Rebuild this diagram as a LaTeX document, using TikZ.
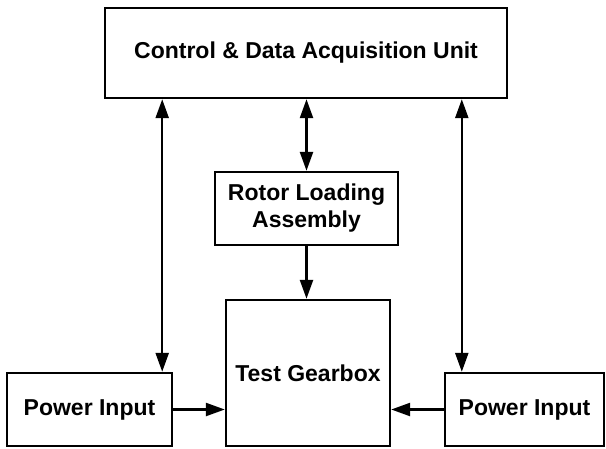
\documentclass[tikz,border=0pt]{standalone}
\usepackage{fontspec}
\setmainfont{Liberation Sans}
\usetikzlibrary{arrows.meta}
\begin{document}
\begin{tikzpicture}[x=1pt,y=-1pt,
  box/.style={draw=black,line width=2.4pt,fill=white,inner sep=0pt,align=center,
    font=\fontsize{23}{27}\selectfont\bfseries},
  conn/.style={line width=2.4pt,-{Triangle[length=19pt,width=13pt]}},
  dconn/.style={line width=2.4pt,{Triangle[length=19pt,width=13pt]}-{Triangle[length=19pt,width=13pt]}}]
\useasboundingbox (0,0) rectangle (606,448);
\node[box,minimum width=402pt,minimum height=90pt] (ctrl) at (306,53) {Control \& Data Acquisition Unit};
\node[box,minimum width=183pt,minimum height=73pt] (rotor) at (306.5,208.5) {Rotor Loading\\Assembly};
\node[box,minimum width=164pt,minimum height=146pt] (gear) at (308,373) {Test Gearbox};
\node[box,minimum width=165pt,minimum height=73pt] (pl) at (89.5,409.5) {Power Input};
\node[box,minimum width=159pt,minimum height=73pt] (pr) at (524.5,409.5) {Power Input};
\draw[dconn] ([xshift=-11pt]pl.north east |- ctrl.south) -- ([xshift=-11pt]pl.north east);
\draw[dconn] ([xshift=18pt]pr.north west |- ctrl.south) -- ([xshift=18pt]pr.north west);
\draw[dconn] (rotor.north |- ctrl.south) -- (rotor.north);
\draw[conn] (rotor.south) -- (rotor.south |- gear.north);
\draw[conn] (pl.east) -- (pl.east -| gear.west);
\draw[conn] (pr.east -| pr.west) -- (pr.west -| gear.east);
\end{tikzpicture}
\end{document}
